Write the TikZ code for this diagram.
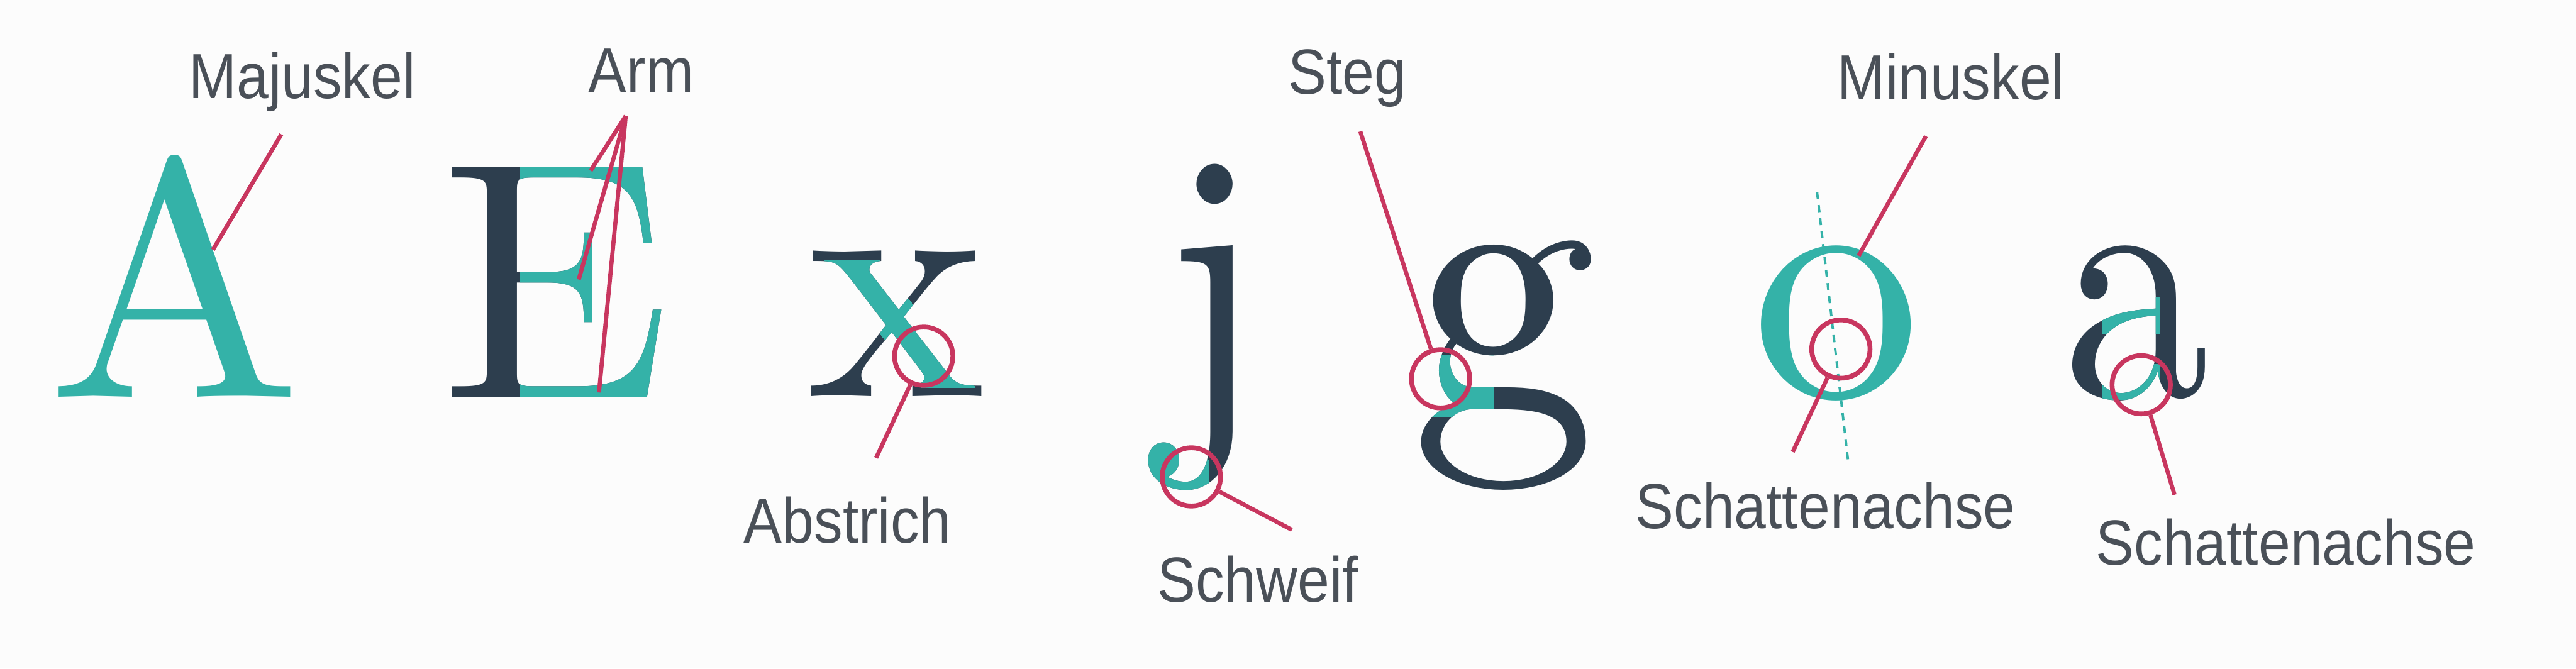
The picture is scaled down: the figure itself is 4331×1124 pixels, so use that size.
\documentclass[tikz,border=0pt]{standalone}
\usepackage{fontspec}
\newfontfamily\labfont[FakeStretch=0.9]{Liberation Sans}
\newfontfamily\glyphfont{lmroman10-regular.otf}
\definecolor{teal}{HTML}{34B2A8}
\definecolor{slate}{HTML}{2D3E4E}
\definecolor{mag}{HTML}{C8365F}
\definecolor{labgray}{HTML}{4A5058}
\definecolor{bg}{HTML}{FCFCFC}
\tikzset{
  lab/.style={font=\labfont\fontsize{30.5pt}{36pt}\selectfont, text=labgray, anchor=base, inner sep=0pt},
  glyph/.style={font=\glyphfont\fontsize{161.6pt}{170pt}\selectfont, anchor=base, inner sep=0pt},
  ring/.style={circle, draw=mag, line width=0.08cm, minimum size=0.98cm, inner sep=0pt},
  lead/.style={draw=mag, line width=0.07cm},
  axis/.style={draw=teal, line width=0.04cm, dash pattern=on 0.12cm off 0.10cm}
}
\newcommand{\jglyph}{\scalebox{1}[1.12]{j}}
\newcommand{\gglyph}{\scalebox{1.1}[1.12]{g}}
\newcommand{\aglyph}{\scalebox{0.87}[1]{a}}
\begin{document}
\begin{tikzpicture}[x=0.01cm,y=-0.01cm]
\path[use as bounding box, fill=bg] (0,0) rectangle (4331,1124);

% letters
\node[glyph, text=teal] (lA) at (294,668) {A};
\node[glyph, text=slate] (lE) at (935,668) {E};
\begin{scope}
  \clip (875,200) rectangle (1200,700);
  \node[glyph, text=teal] (lEt) at (935,668) {E};
\end{scope}
\node[glyph, text=slate] (lx) at (1507,667) {x};
\begin{scope}
  \clip (1385,437) -- (1478,437) -- (1640,652) -- (1548,652) -- cycle;
  \node[glyph, text=teal] (lxt) at (1507,667) {x};
\end{scope}
\node[glyph, text=slate] (lj) at (2040,694) {\jglyph};
\begin{scope}
  \clip (1900,715) -- (2005,715) -- (2032,775) -- (2032,860) -- (1900,860) -- cycle;
  \node[glyph, text=teal] (ljt) at (2040,694) {\jglyph};
\end{scope}
\node[glyph, text=slate] (lg) at (2528,693) {\gglyph};
\begin{scope}
  \clip (2380,598) rectangle (2512,700);
  \node[glyph, text=teal] (lgt) at (2528,693) {\gglyph};
\end{scope}
\node[glyph, text=teal] (lo) at (3087,668) {o};
\node[glyph, text=slate] (la) at (3592,668) {\aglyph};
\begin{scope}
  \clip (3535,500) rectangle (3630,562) (3535,612) rectangle (3630,672);
  \node[glyph, text=teal] (lat) at (3592,668) {\aglyph};
\end{scope}

% shadow axis of o
\coordinate (axT) at (3055,323);
\coordinate (axB) at (3107,774);
\draw[axis] (axT) -- (axB);

% labels
\node[lab] (tMaj) at (508,166) {Majuskel};
\node[lab] (tArm) at (1078,156) {Arm};
\node[lab] (tAbs) at (1425,913) {Abstrich};
\node[lab] (tSchw) at (2115,1012) {Schweif};
\node[lab] (tSteg) at (2265,158) {Steg};
\node[lab] (tMin) at (3280,168) {Minuskel};
\node[lab] (tSa1) at (3069,889) {Schattenachse};
\node[lab] (tSa2) at (3843,950) {Schattenachse};

% rings
\node[ring] (cAbs) at (1553,599) {};
\node[ring] (cSchw) at (2003,802) {};
\node[ring] (cSteg) at (2422,637) {};
\node[ring] (cO) at (3095,587) {};
\node[ring] (cA) at (3600,647) {};

% leader lines
\coordinate (mT) at (473,226);
\coordinate (mB) at (358,420);
\draw[lead] (mT) -- (mB);
\coordinate (armApex) at (1052,195);
\coordinate (arm1) at (993,287);
\coordinate (arm2) at (973,470);
\coordinate (arm3) at (1007,660);
\draw[lead] (armApex) -- (arm1);
\draw[lead] (armApex) -- (arm2);
\draw[lead] (armApex) -- (arm3);
\coordinate (absE) at (1473,770);
\draw[lead] (cAbs) -- (absE);
\coordinate (schwE) at (2172,891);
\draw[lead] (cSchw) -- (schwE);
\coordinate (stegE) at (2287,221);
\draw[lead] (stegE) -- (cSteg);
\coordinate (minT) at (3238,229);
\coordinate (minB) at (3125,430);
\draw[lead] (minT) -- (minB);
\coordinate (saE) at (3014,760);
\draw[lead] (cO) -- (saE);
\coordinate (sa2E) at (3656,832);
\draw[lead] (cA) -- (sa2E);
\end{tikzpicture}
\end{document}
